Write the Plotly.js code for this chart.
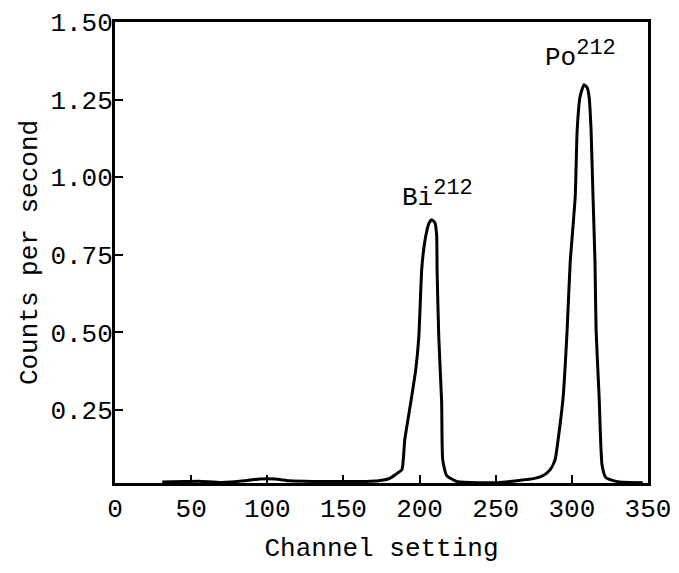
<!DOCTYPE html>
<html>
<head>
<meta charset="utf-8">
<script src="https://cdn.plot.ly/plotly-3.0.1.min.js"></script>
<style>html,body{margin:0;padding:0;background:#fff;}#chart{width:679px;height:573px;}</style>
</head>
<body>
<div id="chart"></div>
<script>
// Channel setting (x) and counts per second (y)
const channel = [31, 45, 55, 70, 85, 95, 105, 115, 130, 150, 165, 173, 180, 185, 188.4, 190.3, 194.2, 197.5, 199.5, 201.4, 202.7, 204, 206, 208, 210, 211.2, 211.5, 212.6, 214.5, 215.2, 217.8, 225, 240, 251.8, 264.9, 274.7, 281.2, 285.8, 289, 291, 294.3, 296.9, 298.9, 302.2, 303.5, 305.4, 308, 310, 311.3, 312.6, 313.9, 315.2, 315.9, 317.9, 319.8, 322.4, 330.3, 346.6];
const counts = [0.018, 0.02, 0.021, 0.017, 0.022, 0.028, 0.028, 0.022, 0.02, 0.02, 0.02, 0.022, 0.029, 0.045, 0.058, 0.155, 0.274, 0.38, 0.486, 0.702, 0.767, 0.809, 0.85, 0.863, 0.854, 0.815, 0.702, 0.486, 0.274, 0.09, 0.039, 0.019, 0.016, 0.016, 0.023, 0.029, 0.039, 0.058, 0.09, 0.155, 0.293, 0.509, 0.725, 0.937, 1.153, 1.26, 1.298, 1.289, 1.26, 1.153, 0.937, 0.725, 0.509, 0.293, 0.074, 0.032, 0.019, 0.016];

const xTicks = [0, 50, 100, 150, 200, 250, 300, 350];
const yTicks = [0.25, 0.50, 0.75, 1.00, 1.25, 1.50];
const yTickText = ["0.25", "0.50", "0.75", "1.00", "1.25", "1.50"];

const peakNames = ["Bi", "Po"];
const peakMass = ["212", "212"];
const peakX = [211.5, 305.5];
const peakY = [0.878, 1.33];

const FONT = "Liberation Mono, Courier New, monospace";

const trace = {
  x: channel,
  y: counts,
  type: "scatter",
  mode: "lines",
  line: {color: "#000", width: 3, shape: "spline", smoothing: 0.5},
  hoverinfo: "skip",
  showlegend: false
};

const layout = {
  width: 679,
  height: 573,
  margin: {l: 115, r: 31, t: 22, b: 90},
  paper_bgcolor: "#fff",
  plot_bgcolor: "#fff",
  font: {family: FONT, size: 26, color: "#000"},
  xaxis: {
    range: [0, 350],
    tickvals: xTicks,
    ticktext: xTicks.map(String),
    ticks: "inside",
    ticklen: 8,
    tickwidth: 2,
    tickcolor: "#000",
    showline: true,
    linecolor: "#000",
    linewidth: 3,
    mirror: true,
    showgrid: false,
    zeroline: false,
    tickfont: {family: FONT, size: 26, color: "#000"},
    title: {text: "Channel setting", font: {family: FONT, size: 26, color: "#000"}, standoff: 14}
  },
  yaxis: {
    range: [0.015, 1.5],
    tickvals: yTicks,
    ticktext: yTickText,
    ticks: "inside",
    ticklen: 8,
    tickwidth: 2,
    tickcolor: "#000",
    showline: true,
    linecolor: "#000",
    linewidth: 3,
    mirror: true,
    showgrid: false,
    zeroline: false,
    ticklabelstandoff: -6,
    tickfont: {family: FONT, size: 26, color: "#000"},
    title: {text: "Counts per second", font: {family: FONT, size: 26, color: "#000"}, standoff: 6}
  },
  annotations: peakNames.map((t, i) => ({
    x: peakX[i], y: peakY[i], xref: "x", yref: "y",
    text: t + "<sup><span style=\"font-size:22px\">" + peakMass[i] + "</span></sup>",
    showarrow: false, xanchor: "center", yanchor: "bottom",
    font: {family: FONT, size: 26, color: "#000"}
  }))
};

Plotly.newPlot("chart", [trace], layout, {displayModeBar: false, staticPlot: true});
</script>
</body>
</html>
